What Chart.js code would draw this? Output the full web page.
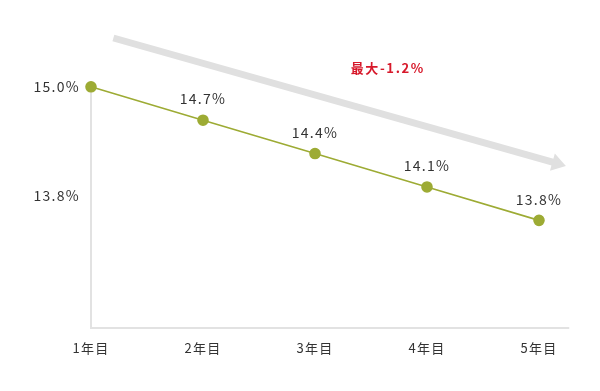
<!DOCTYPE html>
<html>
<head>
<meta charset="utf-8">
<script src="https://cdn.jsdelivr.net/npm/chart.js@4"></script>
<style>
  html, body { margin: 0; padding: 0; background: #fff; }
  #wrap { width: 600px; height: 391px; }
</style>
</head>
<body>
<div id="wrap"><canvas id="lineChart" width="600" height="391"></canvas></div>
<script>
// chart data
const years = ['1年目', '2年目', '3年目', '4年目', '5年目'];
const rates = [15.0, 14.7, 14.4, 14.1, 13.8];
const yTickLabels = ['15.0%', '13.8%'];
const yTickValues = [15.0, 14.02];
const noteText = '最大-1.2%';

const FONT = '"Noto Sans CJK JP", "Noto Sans", sans-serif';
const olive = '#9dab34';
const axisGray = '#e2e2e2';

// axis lines + trend arrow + note, drawn behind the line
const decoPlugin = {
    id: 'deco',
    beforeDraw(chart) {
        // wider tracking for the axis labels
        chart.ctx.letterSpacing = '1.3px';
    },
    beforeDatasetsDraw(chart) {
        const ctx = chart.ctx;
        const area = chart.chartArea;
        const x = chart.scales.x;
        const y = chart.scales.y;
        const step = x.getPixelForValue(1) - x.getPixelForValue(0);

        ctx.save();
        // axes
        ctx.strokeStyle = axisGray;
        ctx.lineWidth = 2;
        ctx.beginPath();
        ctx.moveTo(area.left, y.getPixelForValue(rates[0]));
        ctx.lineTo(area.left, area.bottom);
        ctx.lineTo(area.right + step * 0.27, area.bottom);
        ctx.stroke();

        // big gray arrow
        const x0 = x.getPixelForValue(0) + step * 0.2;
        const y0 = area.top + 18;
        const x1 = x.getPixelForValue(4) + step * 0.24;
        const y1 = area.top + 146;
        const ang = Math.atan2(y1 - y0, x1 - x0);
        const headLen = 14;
        const bx = x1 - headLen * Math.cos(ang);
        const by = y1 - headLen * Math.sin(ang);
        ctx.strokeStyle = '#e0e0e0';
        ctx.lineWidth = 7;
        ctx.beginPath();
        ctx.moveTo(x0, y0);
        ctx.lineTo(bx + 2 * Math.cos(ang), by + 2 * Math.sin(ang));
        ctx.stroke();
        ctx.fillStyle = '#e0e0e0';
        ctx.beginPath();
        ctx.moveTo(x1, y1);
        ctx.lineTo(bx + 9 * Math.sin(ang), by - 9 * Math.cos(ang));
        ctx.lineTo(bx - 9 * Math.sin(ang), by + 9 * Math.cos(ang));
        ctx.closePath();
        ctx.fill();

        // note
        ctx.fillStyle = '#d7192b';
        ctx.font = 'bold 13px ' + FONT;
        ctx.letterSpacing = '1.6px';
        ctx.textAlign = 'center';
        ctx.textBaseline = 'middle';
        ctx.fillText(noteText, x.getPixelForValue(2.65), area.top + 48);
        ctx.restore();
    },
    afterDatasetsDraw(chart) {
        // value labels above points (first one is on the axis)
        const ctx = chart.ctx;
        const meta = chart.getDatasetMeta(0);
        ctx.save();
        ctx.fillStyle = '#333';
        ctx.font = '14px ' + FONT;
        ctx.letterSpacing = '1.3px';
        ctx.textAlign = 'center';
        ctx.textBaseline = 'middle';
        meta.data.forEach(function (pt, i) {
            if (i === 0) return;
            ctx.fillText(rates[i].toFixed(1) + '%', pt.x, pt.y - 21);
        });
        ctx.restore();
    }
};

const ctx = document.getElementById('lineChart').getContext('2d');
new Chart(ctx, {
    type: 'line',
    data: {
        labels: years,
        datasets: [{
            data: rates,
            borderColor: olive,
            borderWidth: 1.6,
            backgroundColor: olive,
            pointBackgroundColor: olive,
            pointBorderColor: olive,
            pointRadius: 5,
            pointHoverRadius: 5,
            tension: 0
        }]
    },
    options: {
        responsive: false,
        animation: false,
        layout: { padding: { top: 20, right: 61, left: 0, bottom: 0 } },
        plugins: {
            legend: { display: false },
            tooltip: { enabled: false }
        },
        scales: {
            x: {
                offset: false,
                grid: { display: false, drawTicks: false },
                border: { display: false },
                ticks: {
                    padding: 12,
                    color: '#333',
                    font: { family: FONT, size: 13 },
                    maxRotation: 0
                },
                afterFit(scale) { scale.height = 63; }
            },
            y: {
                min: 12.833,
                max: 15.6,
                grid: { display: false, drawTicks: false },
                border: { display: false },
                afterBuildTicks(scale) {
                    scale.ticks = yTickValues.map(v => ({ value: v }));
                },
                ticks: {
                    padding: 11,
                    color: '#333',
                    font: { family: FONT, size: 14 },
                    callback: function (value, index) { return yTickLabels[index]; }
                },
                afterFit(scale) { scale.width = 91; }
            }
        }
    },
    plugins: [decoPlugin]
});
</script>
</body>
</html>
